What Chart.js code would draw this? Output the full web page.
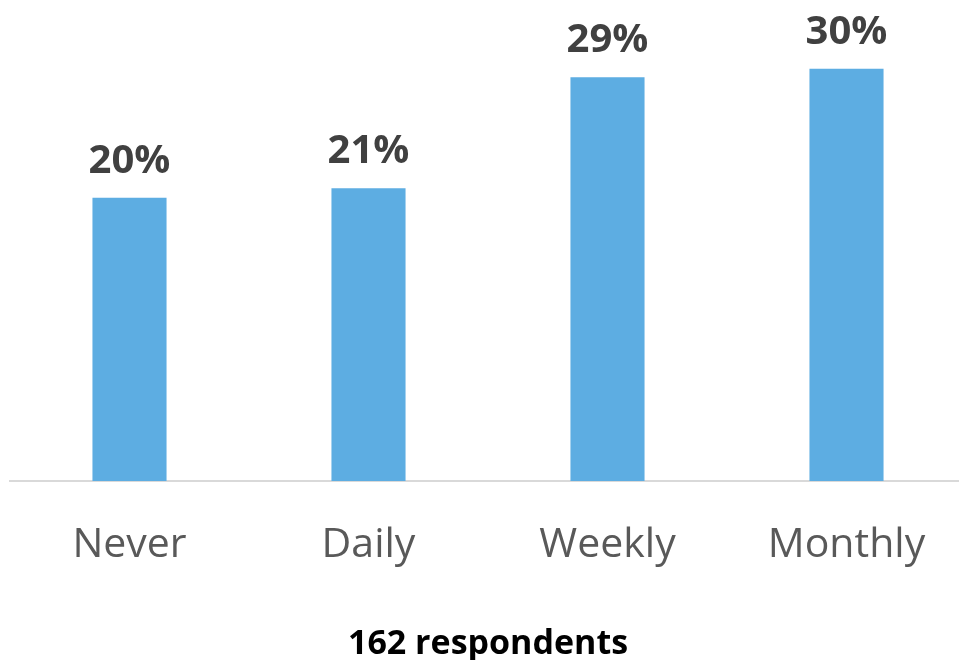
<!DOCTYPE html>
<html>
<head>
<meta charset="utf-8">
<script src="https://cdn.jsdelivr.net/npm/chart.js@4.4.1/dist/chart.umd.min.js"></script>
<style>
  html, body { margin: 0; padding: 0; background: #fff; overflow: hidden; }
  #wrap { width: 966px; height: 660px; }
</style>
</head>
<body>
<div id="wrap"><canvas id="chart"></canvas></div>
<script>
const categories = ['Never', 'Daily', 'Weekly', 'Monthly'];
const shares = [20.4, 21.1, 29.1, 29.7];
const shareLabels = ['20%', '21%', '29%', '30%'];
const footTitle = '162 respondents';

// value labels above each bar
const barLabels = {
    id: 'barLabels',
    afterDatasetsDraw(chart) {
        const ctx = chart.ctx;
        const meta = chart.getDatasetMeta(0);
        ctx.save();
        ctx.font = 'bold 40px "Open Sans"';
        ctx.fillStyle = '#404040';
        ctx.textAlign = 'center';
        ctx.textBaseline = 'alphabetic';
        meta.data.forEach((bar, i) => ctx.fillText(shareLabels[i], bar.x, bar.y - 25));
        ctx.restore();
    }
};

new Chart(document.getElementById('chart').getContext('2d'), {
    type: 'bar',
    data: {
        labels: categories,
        datasets: [{ data: shares, backgroundColor: '#5DADE2', categoryPercentage: 1, barPercentage: 0.31 }]
    },
    options: {
        responsive: true,
        maintainAspectRatio: false,
        animation: false,
        layout: { padding: { top: 23, left: 10, right: 0, bottom: 0 } },
        plugins: {
            legend: { display: false },
            tooltip: { enabled: false },
            title: {
                display: true, position: 'bottom', text: footTitle, color: '#000',
                font: { family: '"Open Sans"', size: 34, weight: 'bold' },
                padding: { top: 14, bottom: -5 }
            }
        },
        scales: {
            x: {
                grid: { display: false, drawTicks: false },
                border: { color: '#D9D9D9', width: 2 },
                ticks: { color: '#595959', padding: 40, font: { family: '"Open Sans"', size: 41 } }
            },
            y: { display: false, min: 0, max: 33 }
        }
    },
    plugins: [barLabels]
});
</script>
</body>
</html>
